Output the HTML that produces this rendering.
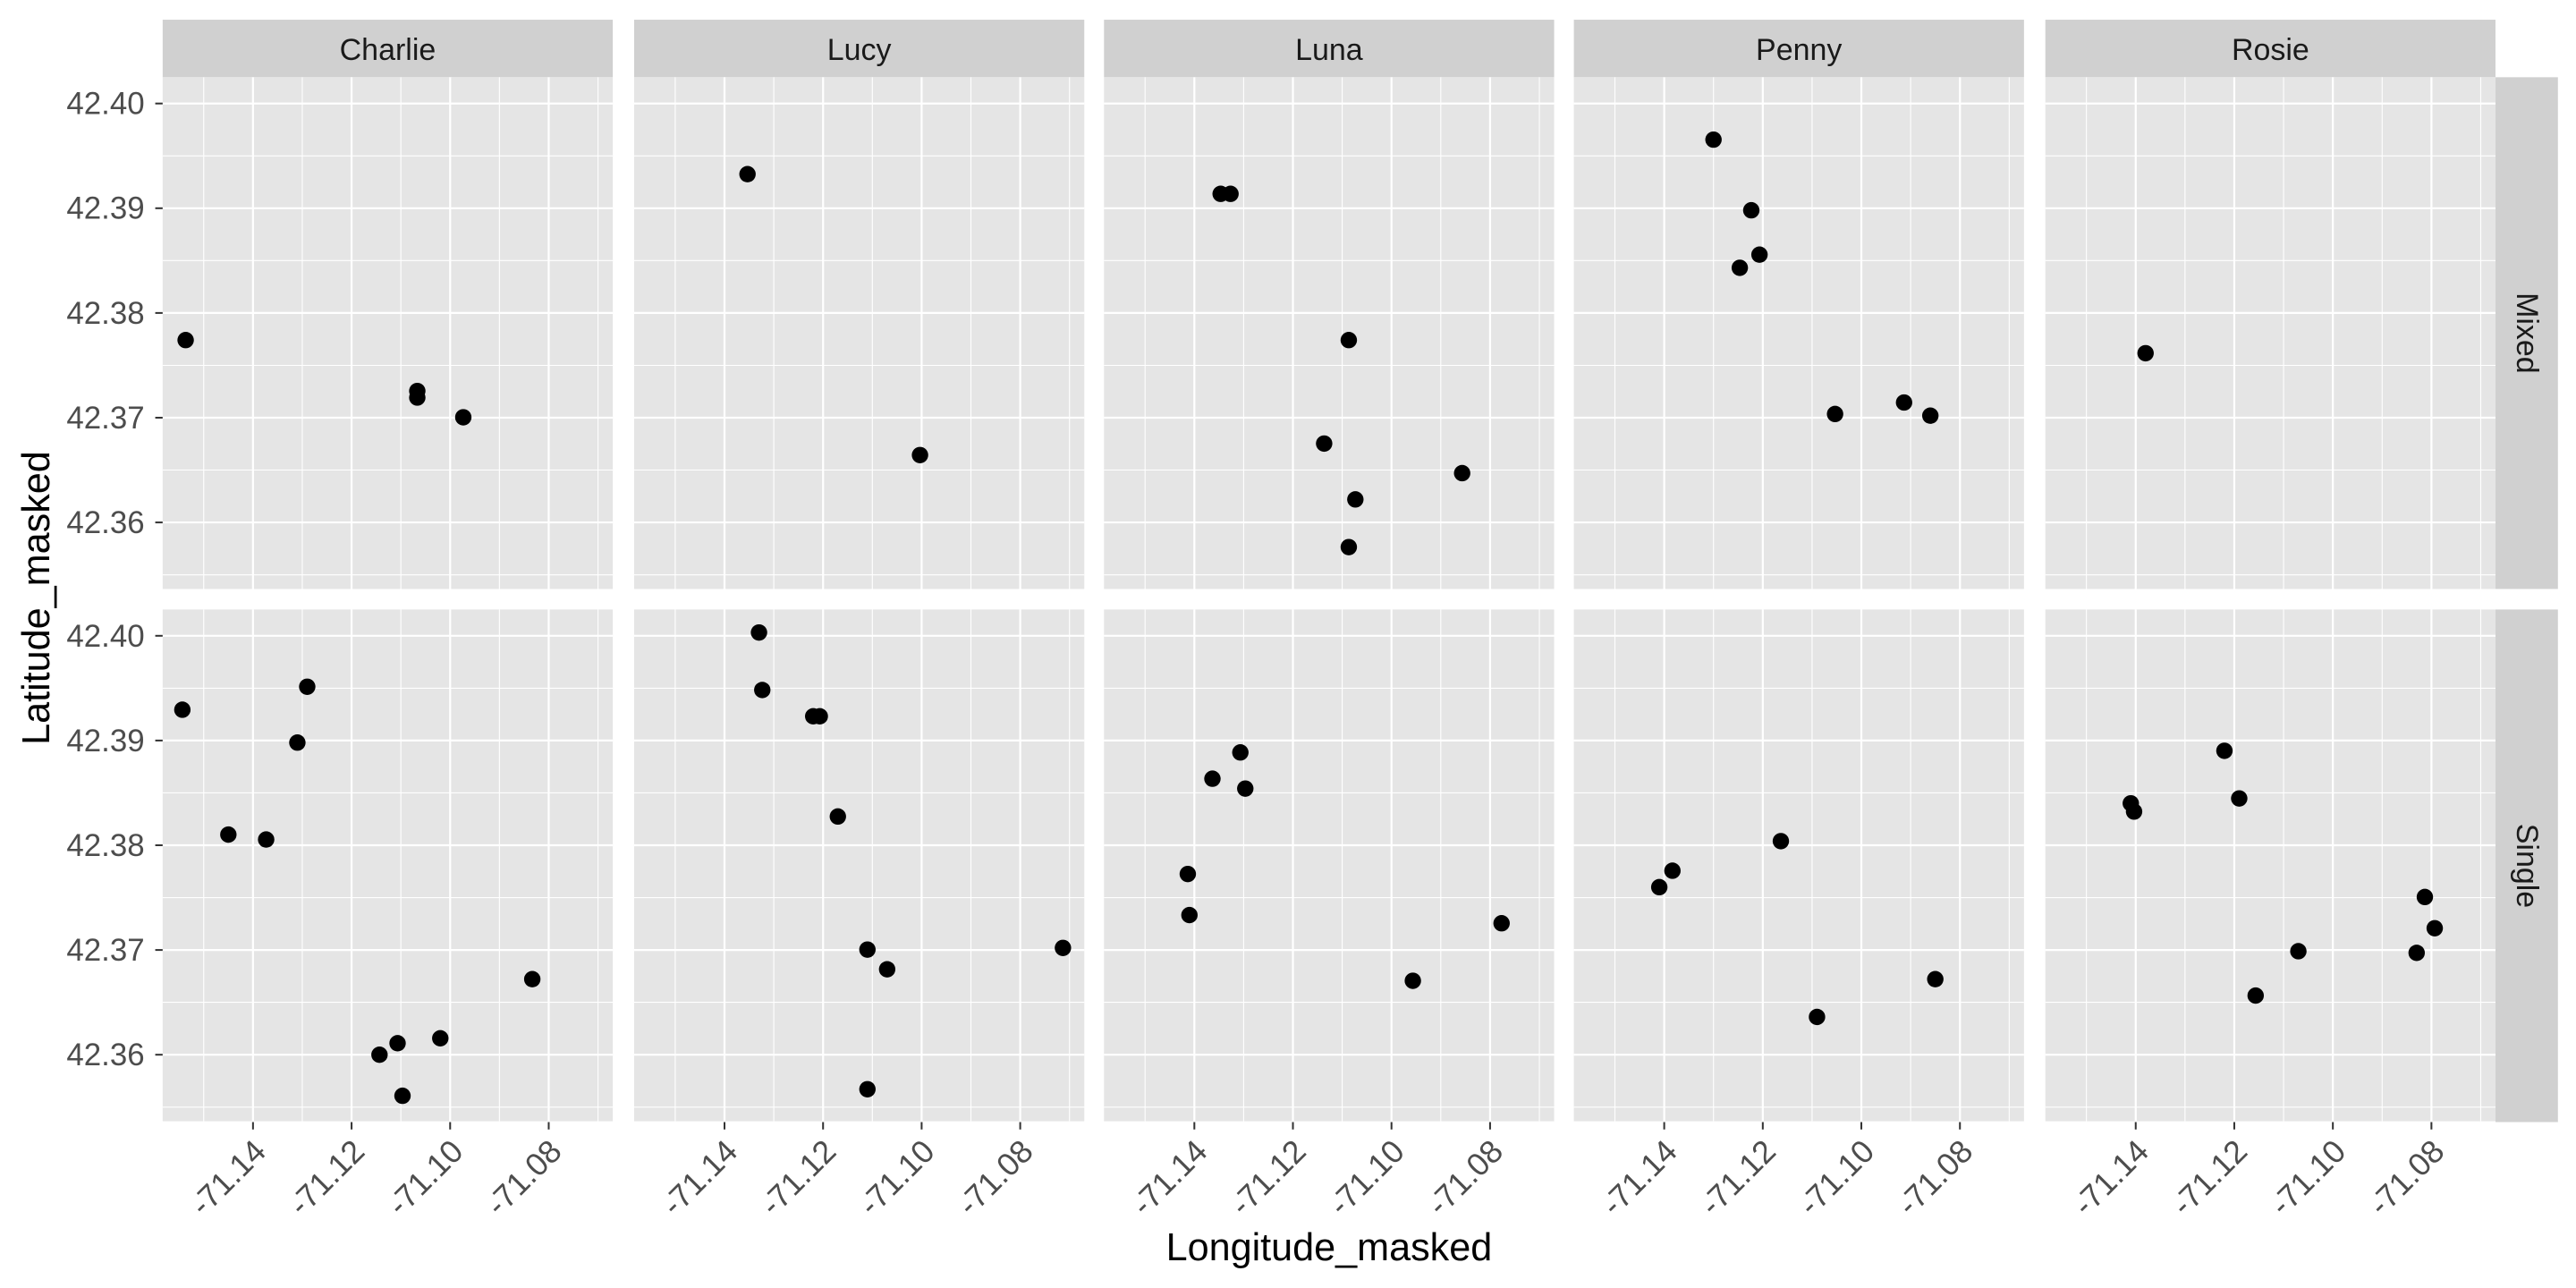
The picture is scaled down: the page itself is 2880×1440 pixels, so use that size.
<!DOCTYPE html>
<html><head><meta charset="utf-8"><style>
html,body{margin:0;padding:0;background:#fff;}
svg{display:block;}
text{font-family:"Liberation Sans",Arial,sans-serif;}
</style></head><body>
<svg width="2880" height="1440" viewBox="0 0 1568 784" preserveAspectRatio="none" xmlns="http://www.w3.org/2000/svg">
<defs>
<g id="grid">
<rect x="0" y="0" width="274" height="311.5" fill="#e5e5e5"/>
<g stroke="#fff" stroke-width="0.6">
<line x1="25" y1="0" x2="25" y2="311.5"/><line x1="85" y1="0" x2="85" y2="311.5"/><line x1="145" y1="0" x2="145" y2="311.5"/><line x1="205" y1="0" x2="205" y2="311.5"/><line x1="265" y1="0" x2="265" y2="311.5"/>
<line x1="0" y1="47.9" x2="274" y2="47.9"/><line x1="0" y1="111.6" x2="274" y2="111.6"/><line x1="0" y1="175.4" x2="274" y2="175.4"/><line x1="0" y1="239.1" x2="274" y2="239.1"/><line x1="0" y1="302.9" x2="274" y2="302.9"/>
</g>
<g stroke="#fff" stroke-width="1.2">
<line x1="55" y1="0" x2="55" y2="311.5"/><line x1="115" y1="0" x2="115" y2="311.5"/><line x1="175" y1="0" x2="175" y2="311.5"/><line x1="235" y1="0" x2="235" y2="311.5"/>
<line x1="0" y1="16" x2="274" y2="16"/><line x1="0" y1="79.75" x2="274" y2="79.75"/><line x1="0" y1="143.5" x2="274" y2="143.5"/><line x1="0" y1="207.25" x2="274" y2="207.25"/><line x1="0" y1="271" x2="274" y2="271"/>
</g>
</g>
<g id="xt">
<g stroke="#333" stroke-width="1.1"><line x1="55" y1="0" x2="55" y2="4.5"/><line x1="115" y1="0" x2="115" y2="4.5"/><line x1="175" y1="0" x2="175" y2="4.5"/><line x1="235" y1="0" x2="235" y2="4.5"/></g>
</g>
</defs>

<g fill="#d0d0d0">
<rect x="99" y="12" width="274" height="35"/><rect x="386" y="12" width="274" height="35"/><rect x="672" y="12" width="274" height="35"/><rect x="958" y="12" width="274" height="35"/><rect x="1245" y="12" width="274" height="35"/>
<rect x="1519" y="47" width="38" height="311.5"/><rect x="1519" y="371" width="38" height="312"/>
</g>
<g font-size="18.5" fill="#1a1a1a" text-anchor="middle">
<text x="236" y="36.5">Charlie</text><text x="523" y="36.5">Lucy</text><text x="809" y="36.5">Luna</text><text x="1095" y="36.5">Penny</text><text x="1382" y="36.5">Rosie</text>
<text transform="translate(1532,202.75) rotate(90)">Mixed</text>
<text transform="translate(1532,527) rotate(90)">Single</text>
</g>

<use href="#grid" x="99" y="47"/><use href="#grid" x="386" y="47"/><use href="#grid" x="672" y="47"/><use href="#grid" x="958" y="47"/><use href="#grid" x="1245" y="47"/>
<use href="#grid" x="99" y="371"/><use href="#grid" x="386" y="371"/><use href="#grid" x="672" y="371"/><use href="#grid" x="958" y="371"/><use href="#grid" x="1245" y="371"/>

<g stroke="#333" stroke-width="1.1">
<line x1="94.5" y1="63" x2="99" y2="63"/><line x1="94.5" y1="126.75" x2="99" y2="126.75"/><line x1="94.5" y1="190.5" x2="99" y2="190.5"/><line x1="94.5" y1="254.25" x2="99" y2="254.25"/><line x1="94.5" y1="318" x2="99" y2="318"/>
<line x1="94.5" y1="387" x2="99" y2="387"/><line x1="94.5" y1="450.75" x2="99" y2="450.75"/><line x1="94.5" y1="514.5" x2="99" y2="514.5"/><line x1="94.5" y1="578.25" x2="99" y2="578.25"/><line x1="94.5" y1="642" x2="99" y2="642"/>
</g>
<g font-size="19" fill="#4d4d4d" text-anchor="end">
<text x="88" y="69.5">42.40</text><text x="88" y="133.25">42.39</text><text x="88" y="197">42.38</text><text x="88" y="260.75">42.37</text><text x="88" y="324.5">42.36</text>
<text x="88" y="393.5">42.40</text><text x="88" y="457.25">42.39</text><text x="88" y="521">42.38</text><text x="88" y="584.75">42.37</text><text x="88" y="648.5">42.36</text>
</g>

<use href="#xt" x="99" y="683"/><use href="#xt" x="386" y="683"/><use href="#xt" x="672" y="683"/><use href="#xt" x="958" y="683"/><use href="#xt" x="1245" y="683"/>
<g font-size="19.5" fill="#4d4d4d" text-anchor="end">
<text transform="translate(163,702) rotate(-45)">-71.14</text><text transform="translate(223,702) rotate(-45)">-71.12</text><text transform="translate(283,702) rotate(-45)">-71.10</text><text transform="translate(343,702) rotate(-45)">-71.08</text>
<text transform="translate(450,702) rotate(-45)">-71.14</text><text transform="translate(510,702) rotate(-45)">-71.12</text><text transform="translate(570,702) rotate(-45)">-71.10</text><text transform="translate(630,702) rotate(-45)">-71.08</text>
<text transform="translate(736,702) rotate(-45)">-71.14</text><text transform="translate(796,702) rotate(-45)">-71.12</text><text transform="translate(856,702) rotate(-45)">-71.10</text><text transform="translate(916,702) rotate(-45)">-71.08</text>
<text transform="translate(1022,702) rotate(-45)">-71.14</text><text transform="translate(1082,702) rotate(-45)">-71.12</text><text transform="translate(1142,702) rotate(-45)">-71.10</text><text transform="translate(1202,702) rotate(-45)">-71.08</text>
<text transform="translate(1309,702) rotate(-45)">-71.14</text><text transform="translate(1369,702) rotate(-45)">-71.12</text><text transform="translate(1429,702) rotate(-45)">-71.10</text><text transform="translate(1489,702) rotate(-45)">-71.08</text>
</g>

<text x="809" y="767" font-size="23.5" text-anchor="middle" fill="#000">Longitude_masked</text>
<text transform="translate(30,364) rotate(-90)" font-size="23.5" text-anchor="middle" fill="#000">Latitude_masked</text>

<g fill="#000">
<circle cx="113" cy="207" r="5"/><circle cx="254" cy="238" r="5"/><circle cx="254" cy="242" r="5"/><circle cx="282" cy="254" r="5"/>
<circle cx="455" cy="106" r="5"/><circle cx="560" cy="277" r="5"/>
<circle cx="743" cy="118" r="5"/><circle cx="749" cy="118" r="5"/><circle cx="821" cy="207" r="5"/><circle cx="806" cy="270" r="5"/><circle cx="890" cy="288" r="5"/><circle cx="825" cy="304" r="5"/><circle cx="821" cy="333" r="5"/>
<circle cx="1043" cy="85" r="5"/><circle cx="1066" cy="128" r="5"/><circle cx="1071" cy="155" r="5"/><circle cx="1059" cy="163" r="5"/><circle cx="1117" cy="252" r="5"/><circle cx="1159" cy="245" r="5"/><circle cx="1175" cy="253" r="5"/>
<circle cx="1306" cy="215" r="5"/>
<circle cx="111" cy="432" r="5"/><circle cx="187" cy="418" r="5"/><circle cx="181" cy="452" r="5"/><circle cx="139" cy="508" r="5"/><circle cx="162" cy="511" r="5"/><circle cx="231" cy="642" r="5"/><circle cx="242" cy="635" r="5"/><circle cx="268" cy="632" r="5"/><circle cx="245" cy="667" r="5"/><circle cx="324" cy="596" r="5"/>
<circle cx="462" cy="385" r="5"/><circle cx="464" cy="420" r="5"/><circle cx="495" cy="436" r="5"/><circle cx="499" cy="436" r="5"/><circle cx="510" cy="497" r="5"/><circle cx="528" cy="578" r="5"/><circle cx="540" cy="590" r="5"/><circle cx="528" cy="663" r="5"/><circle cx="647" cy="577" r="5"/>
<circle cx="755" cy="458" r="5"/><circle cx="738" cy="474" r="5"/><circle cx="758" cy="480" r="5"/><circle cx="723" cy="532" r="5"/><circle cx="724" cy="557" r="5"/><circle cx="860" cy="597" r="5"/><circle cx="914" cy="562" r="5"/>
<circle cx="1010" cy="540" r="5"/><circle cx="1018" cy="530" r="5"/><circle cx="1084" cy="512" r="5"/><circle cx="1106" cy="619" r="5"/><circle cx="1178" cy="596" r="5"/>
<circle cx="1354" cy="457" r="5"/><circle cx="1297" cy="489" r="5"/><circle cx="1299" cy="494" r="5"/><circle cx="1363" cy="486" r="5"/><circle cx="1476" cy="546" r="5"/><circle cx="1482" cy="565" r="5"/><circle cx="1471" cy="580" r="5"/><circle cx="1399" cy="579" r="5"/><circle cx="1373" cy="606" r="5"/>
</g>
</svg>
</body></html>
